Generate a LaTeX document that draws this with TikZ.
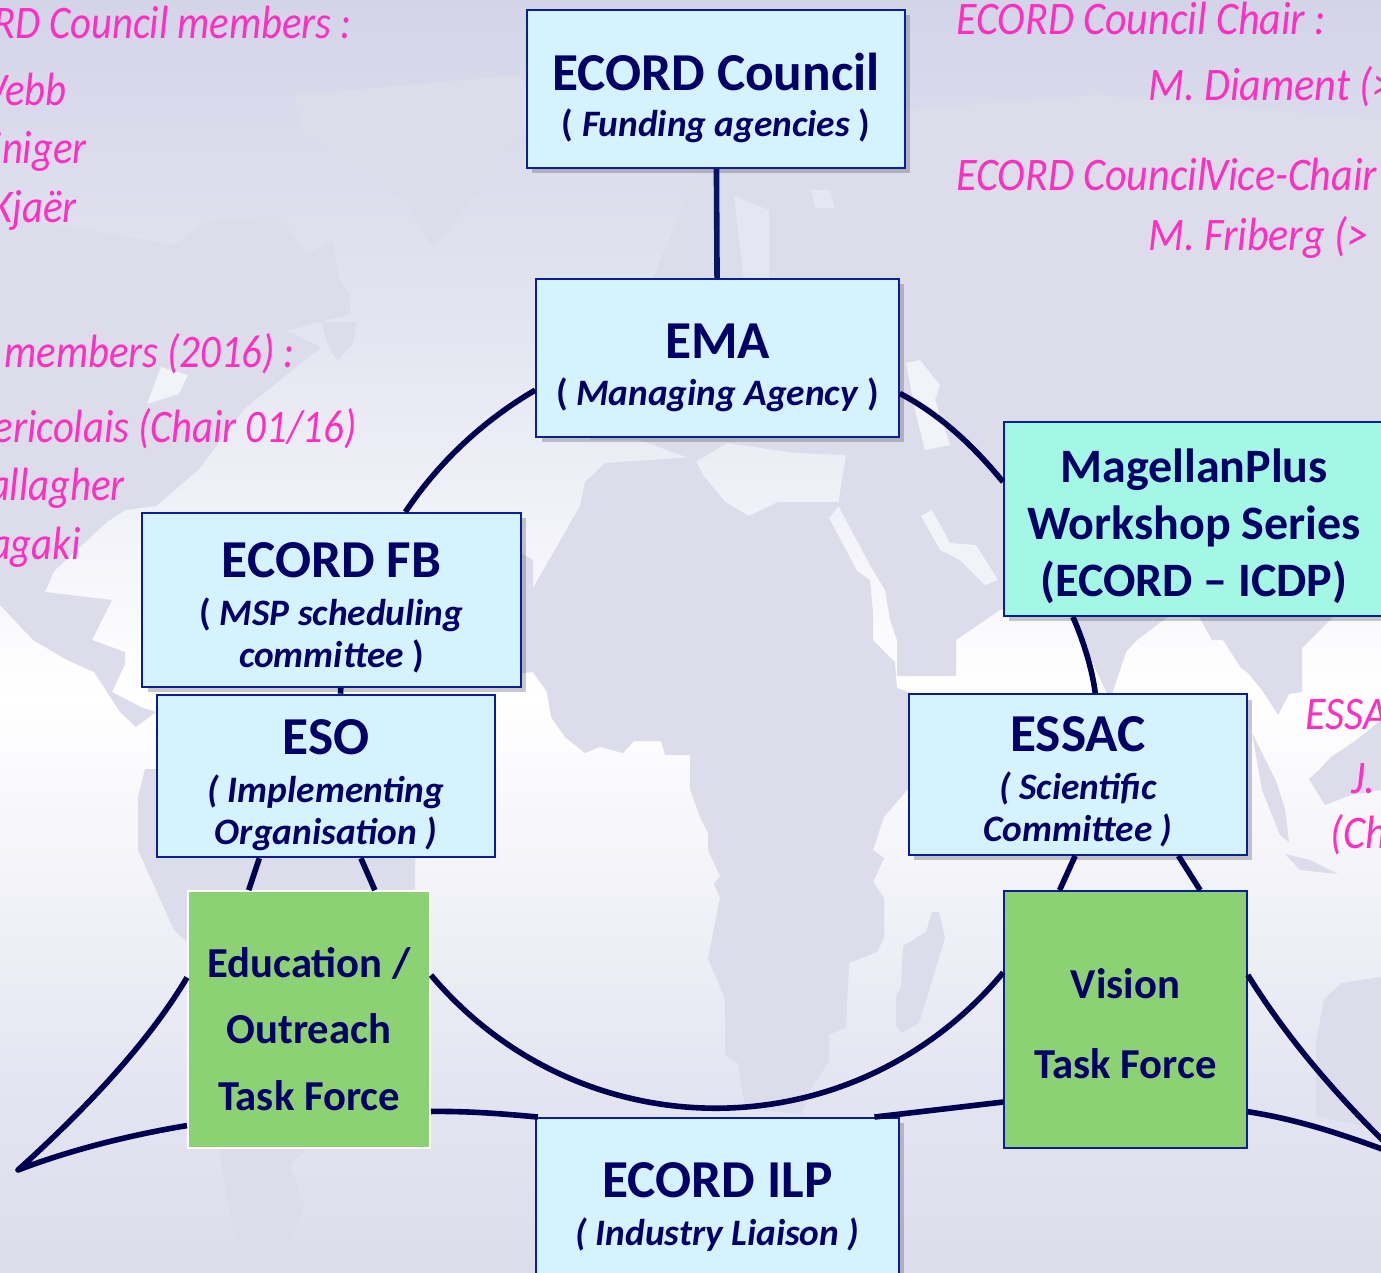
\documentclass[tikz,border=0pt]{standalone}
\usepackage{fontspec}
\setmainfont{Carlito}
\newfontfamily\notefont{Carlito}[FakeStretch=0.9]
\newfontfamily\slimnotefont{Carlito}[FakeStretch=0.87]
\usetikzlibrary{shadows}

\definecolor{skyA}{HTML}{DCDCEB}
\definecolor{skyB}{HTML}{E4E4F1}
\definecolor{skyC}{HTML}{F1F1F8}
\definecolor{skyD}{HTML}{FFFFFF}
\definecolor{skyE}{HTML}{FCFCFE}
\definecolor{skyF}{HTML}{F0F0F8}
\definecolor{skyG}{HTML}{E3E3F0}
\definecolor{skyH}{HTML}{D3D4E8}
\definecolor{landcol}{HTML}{DCDCEA}
\definecolor{seacol}{HTML}{F2F2F9}
\definecolor{seatop}{HTML}{E6E6F2}
\definecolor{boxfill}{HTML}{D5F3FF}
\definecolor{boxedge}{HTML}{0A1E96}
\definecolor{inktext}{HTML}{000066}
\definecolor{linkcol}{HTML}{000050}
\definecolor{mintfill}{HTML}{A5F7E5}
\definecolor{taskfill}{HTML}{8CD174}
\definecolor{notepink}{HTML}{FF2FC0}

\pgfdeclareverticalshading{skyfade}{100bp}{color(0bp)=(skyA); color(25bp)=(skyA); color(31.75bp)=(skyB); color(39.5bp)=(skyC); color(47.5bp)=(skyD); color(49.5bp)=(skyE); color(55.35bp)=(skyF); color(63.2bp)=(skyG); color(75bp)=(skyH); color(100bp)=(skyH)}

\newcommand{\orgname}{\fontsize{40}{46}\selectfont\bfseries}
\newcommand{\orgrole}{\fontsize{28}{42}\selectfont\bfseries\itshape}
\newcommand{\taskname}{\fontsize{32}{40}\selectfont\bfseries}
% fixes the height over the first line and the depth under the last one
\newcommand{\headroom}[1]{\rule{0pt}{#1pt}}
\newcommand{\footroom}{\rule[-10pt]{0pt}{0pt}}

\tikzset{
  every picture/.style={line width=0.75pt},
  flatbox/.style={draw=boxedge,line width=1.5pt,fill=boxfill,text=inktext,align=center,inner sep=0pt,
    font=\fontsize{28}{31.5}\selectfont},
  orgbox/.style={flatbox,drop shadow={shadow xshift=4pt,shadow yshift=-4pt,opacity=0.3,fill=black!70}},
  taskbox/.style={draw=boxedge,line width=1.5pt,fill=taskfill,text=inktext,align=center,inner sep=0pt},
  notetext/.style={text=notepink,inner sep=0pt,font=\fontsize{35}{40}\notefont\itshape},
  slimnote/.style={text=notepink,inner sep=0pt,font=\fontsize{35}{40}\slimnotefont\itshape},
  link/.style={draw=linkcol,line width=4.2pt,line join=round},
  land/.style={fill=landcol},
  sea/.style={fill=seacol},
}

\begin{document}
\begin{tikzpicture}[x=0.75pt,y=0.75pt,yscale=-1]

\useasboundingbox (0,0) rectangle (1381,1272);
\clip (0,0) rectangle (1381,1272);
\shade [shading=skyfade] (0,0) rectangle (1381,1272);

% map
\fill [land] (0,215) -- (174,245) -- (210,220) -- (277,216) -- (308,253) -- (333,241) -- (339,278) -- (350,294) -- (350,314) -- (286,331) -- (321,347) -- (245,408) -- (199,469) -- (156,506) -- (125,510) -- (107,522) -- (54,571) -- (45,592) -- (112,600) -- (92,640) -- (125,652) -- (125,664) -- (112,692) -- (143,708) -- (156,712) -- (136,727) -- (120,712) -- (107,692) -- (94,672) -- (67,660) -- (33,640) -- (0,605) -- cycle ;
\fill [land] (295,95) -- (520,75) -- (540,110) -- (470,200) -- (440,240) -- (430,245) -- (405,200) -- (360,170) -- (300,130) -- cycle ;
\fill [land] (321,322) -- (357,322) -- (352,345) -- (338,360) -- (330,350) -- cycle ;
\fill [land] (138,797) -- (145,769) -- (156,769) -- (300,800) -- (415,858) -- (415,890) -- (400,980) -- (308,1148) -- (290,1164) -- (304,1205) -- (290,1245) -- (241,1269) -- (228,1205) -- (219,1148) -- (187,942) -- (174,930) -- (138,850) -- cycle ;
\fill [land] (533,672) -- (533,588) -- (580,506) -- (585,482) -- (605,463) -- (694,457) -- (703,475) -- (725,502) -- (749,516) -- (778,502) -- (842,502) -- (829,518) -- (857,571) -- (870,580) -- (873,612) -- (873,640) -- (895,662) -- (897,688) -- (930,700) -- (908,789) -- (884,817) -- (873,850) -- (884,858) -- (873,882) -- (884,898) -- (884,938) -- (877,952) -- (849,963) -- (846,1027) -- (829,1035) -- (829,1061) -- (809,1092) -- (802,1114) -- (745,1108) -- (738,1063) -- (725,1055) -- (725,999) -- (708,958) -- (720,898) -- (714,884) -- (720,876) -- (708,850) -- (708,833) -- (700,817) -- (690,789) -- (690,755) -- (665,755) -- (661,741) -- (634,741) -- (623,753) -- (600,747) -- (585,753) -- (565,737) -- (551,717) -- (547,692) -- cycle ;
\fill [land] (398,640) -- (398,600) -- (480,530) -- (533,560) -- (533,672) -- (460,680) -- cycle ;
\fill [land] (590,440) -- (600,410) -- (570,395) -- (590,340) -- (640,310) -- (660,260) -- (700,170) -- (770,130) -- (900,110) -- (1100,95) -- (1381,120) -- (1381,560) -- (1340,610) -- (1302,648) -- (1302,692) -- (1289,694) -- (1278,715) -- (1262,690) -- (1247,672) -- (1241,668) -- (1223,640) -- (1212,640) -- (1190,600) -- (1137,640) -- (1126,652) -- (1110,700) -- (1082,640) -- (1060,600) -- (1000,610) -- (956,640) -- (956,676) -- (897,676) -- (897,640) -- (890,620) -- (885,590) -- (870,565) -- (838,505) -- (846,455) -- (796,453) -- (727,443) -- (697,461) -- (640,440) -- cycle ;
\fill [land] (932,912) -- (939,912) -- (945,938) -- (919,1023) -- (901,1033) -- (896,1025) -- (896,997) -- (901,987) -- (903,946) -- (926,932) -- cycle ;
\fill [land] (1252,733) -- (1276,781) -- (1285,809) -- (1289,842) -- (1280,835) -- (1262,790) -- cycle ;
\fill [land] (1309,779) -- (1320,769) -- (1331,757) -- (1355,741) -- (1381,720) -- (1381,790) -- (1351,795) -- (1325,805) -- cycle ;
\fill [land] (1285,854) -- (1310,860) -- (1338,874) -- (1300,870) -- cycle ;
\fill [land] (1316,1043) -- (1324,999) -- (1342,983) -- (1381,977) -- (1381,1130) -- (1316,1116) -- cycle ;
\fill [sea] (921,516) -- (932,510) -- (950,543) -- (976,545) -- (998,580) -- (985,585) -- (960,560) -- (940,550) -- cycle ;
\fill [sea] (906,363) -- (920,360) -- (940,385) -- (935,400) -- (950,445) -- (925,450) -- (915,410) -- cycle ;
\fill [sea] (147,404) -- (161,367) -- (188,375) -- (179,394) -- cycle ;
\fill [seatop] (811,190) -- (830,190) -- (835,208) -- (815,208) -- cycle ;
\fill [seatop] (734,196) -- (769,210) -- (769,278) -- (745,290) -- cycle ;

% boxes
\node (council) [orgbox,minimum width=283.5pt,minimum height=118.5pt] at (716,89) {\headroom{46}{\orgname ECORD Council}\\[3pt]{\orgrole \textup{(} Funding agencies \textup{)}}\footroom};
\node (ema) [orgbox,minimum width=272pt,minimum height=118.5pt] at (717.5,358) {\headroom{45.25}{\orgname EMA}\\[3.75pt]{\orgrole \textup{(} Managing Agency \textup{)}}\footroom};
\node (fb) [orgbox,minimum width=284pt,minimum height=130.5pt] at (331.5,600) {\headroom{43}{\orgname ECORD FB}\\[4.5pt]{\orgrole \textup{(} MSP scheduling}\\{\orgrole committee \textup{)}}\footroom};
\node (eso) [flatbox,minimum width=253.5pt,minimum height=120pt] at (326,776) {\headroom{44.5}{\orgname ESO}\\[4.5pt]{\orgrole ( Implementing}\\{\orgrole Organisation )}\footroom};
\node (essac) [orgbox,minimum width=253.5pt,minimum height=120.5pt] at (1078,774.5) {\headroom{42.8}{\orgname ESSAC}\\[4.5pt]{\orgrole ( Scientific}\\{\orgrole Committee )}\footroom};
\node (magellan) [orgbox,fill=mintfill,minimum width=285pt,minimum height=145.5pt,font=\fontsize{36}{43}\selectfont\bfseries] at (1194,519) {\headroom{40.5}MagellanPlus\\Workshop Series\\(ECORD -- ICDP)\footroom};
\node (ilp) [orgbox,minimum width=272pt,minimum height=118.5pt] at (717.5,1197) {\headroom{46}{\orgname ECORD ILP}\\[4.5pt]{\orgrole ( Industry Liaison )}\footroom};
\node (edu) [taskbox,draw=white,minimum width=181.5pt,minimum height=192.5pt,font=\fontsize{32}{50}\selectfont] at (309,1019.5) {\headroom{46.7}{\taskname Education /}\\{\taskname Outreach}\\{\taskname Task Force}\footroom};
\node (vision) [taskbox,minimum width=182pt,minimum height=192.5pt,font=\fontsize{32}{60}\selectfont] at (1125.5,1019.5) {\headroom{37.8}{\taskname Vision}\\{\taskname Task Force}\footroom};

\coordinate (tipleft) at (18,1170);
\coordinate (tipright) at (1398,1155);

% connectors
\draw [link,draw=boxedge!70!black] (council) -- (ema);
\draw [link] (ema.190.6) .. controls (482.7,420.8) and (438,463) .. (fb.50.2);
\draw [link] (ema.349.4) .. controls (940.4,414.5) and (974.5,447) .. (magellan.169.3);
\draw [link] (magellan.219.9) .. controls (1083,640) and (1092,668) .. (essac.78);
\draw [link] (fb.276.2) -- (eso.80.8);
\draw [link] (eso.231.8) -- (edu.115.4);
\draw [link] (eso.293) -- (edu.63.5);
\draw [link] (essac.268) -- (vision.117.7);
\draw [link] (essac.321.2) -- (vision.60.6);
\draw [link] (edu.20.2) .. controls (581,1153) and (853,1153) .. (vision.159.9);
\draw [link] (edu.161.9) .. controls (150,1040) and (90,1105) .. (tipleft) .. controls (70,1150) and (130,1135) .. (edu.221.1);
\draw [link] (edu.323.2) .. controls (470,1111) and (505,1114) .. (ilp.156.4);
\draw [link] (ilp.27.7) .. controls (910,1113) and (960,1107) .. (vision.214.8);
\draw [link] (vision.20.9) .. controls (1285,1035) and (1335,1095) .. (tipright) .. controls (1340,1133) and (1295,1119) .. (vision.323.3);

% names
\node (cm) [slimnote,anchor=base east] at (352,38) {RD Council members :};
\node (cma) [slimnote,anchor=base east] at (67,105) {Vebb};
\node (cmb) [slimnote,anchor=base east] at (87,163) {iniger};
\node (cmc) [slimnote,anchor=base east] at (77,222) {Kjaër};
\node (fm) [slimnote,anchor=base east] at (295,367) {members (2016) :};
\node (fma) [slimnote,anchor=base east] at (357,442) {ericolais (Chair 01/16)};
\node (fmb) [slimnote,anchor=base east] at (125,500) {allagher};
\node (fmc) [slimnote,anchor=base east] at (81,559) {agaki};
\node (chair) [notetext,anchor=base west] at (956,34) {ECORD Council Chair :};
\node (chairname) [notetext,anchor=base west] at (1148,100) {M. Diament (>};
\node (vice) [notetext,anchor=base west] at (956,190) {ECORD Council\hspace{-0.05em}Vice-Chair};
\node (vicename) [notetext,anchor=base west] at (1148,250) {M. Friberg (>};
\node (es) [notetext,anchor=base west] at (1305,729) {ESSA};
\node (esa) [notetext,anchor=base west] at (1351,793) {J.};
\node (esb) [notetext,anchor=base west] at (1330,848) {(Ch};

\end{tikzpicture}
\end{document}
